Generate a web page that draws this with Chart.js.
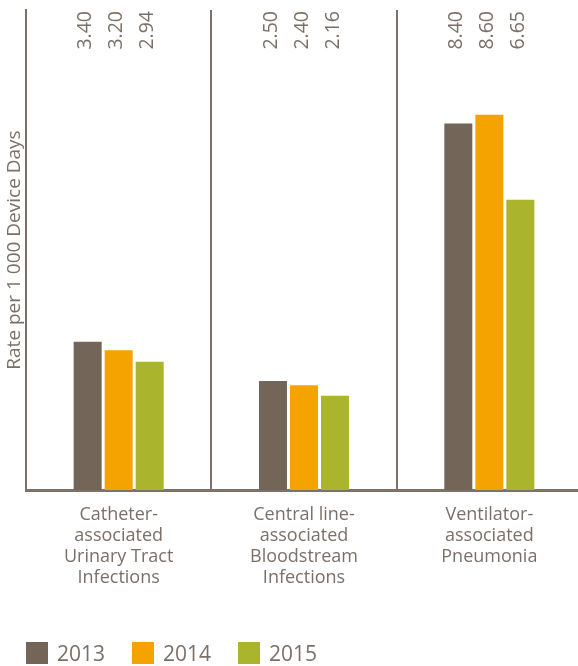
<!DOCTYPE html>
<html>
<head>
<meta charset="utf-8">
<title>Device-associated infection rates</title>
<script src="https://cdn.jsdelivr.net/npm/chart.js@4.4.1/dist/chart.umd.min.js"></script>
<style>
  html, body { margin: 0; padding: 0; background: #fff; }
  #wrap { position: relative; width: 578px; height: 666px; overflow: hidden; }
  #chart { display: block; }
  #legend {
    position: absolute; left: 26px; top: 642px;
    display: flex; align-items: center;
    font-family: "Open Sans", sans-serif; font-size: 21px; line-height: 22px; color: #7b7068;
  }
  #legend .item { display: flex; align-items: center; margin-right: 27px; }
  #legend .swatch { width: 22px; height: 22px; margin-right: 9px; }
</style>
</head>
<body>
<div id="wrap">
  <!-- un peu plus large que la fenêtre : la dernière séparation sort du cadre -->
  <canvas id="chart" width="582" height="666"></canvas>
  <div id="legend"></div>
</div>
<script>
const categories = [
  ["Catheter-", "associated", "Urinary Tract", "Infections"],
  ["Central line-", "associated", "Bloodstream", "Infections"],
  ["Ventilator-", "associated", "Pneumonia"],
];
const years = ["2013", "2014", "2015"];
const rates2013 = [3.40, 2.50, 8.40];
const rates2014 = [3.20, 2.40, 8.60];
const rates2015 = [2.94, 2.16, 6.65];
const yMax = 11;

const colors = ["#736659", "#f5a300", "#aab42d"];
const lineColor = "#7d726a";
const textColor = "#7b7068";
const fontFamily = "'Open Sans', sans-serif";

// Valeurs écrites verticalement en haut de chaque barre
const valueLabels = {
  id: "valueLabels",
  afterDatasetsDraw(chart) {
    const { ctx, chartArea } = chart;
    ctx.save();
    ctx.fillStyle = textColor;
    ctx.font = "19.5px " + fontFamily;
    ctx.textAlign = "right";
    ctx.textBaseline = "middle";
    chart.data.datasets.forEach((ds, i) => {
      chart.getDatasetMeta(i).data.forEach((bar, j) => {
        ctx.save();
        ctx.translate(bar.x, chartArea.top + 1);
        ctx.rotate(-Math.PI / 2);
        ctx.fillText(ds.data[j].toFixed(2), 0, -2);
        ctx.restore();
      });
    });
    ctx.restore();
  },
};

const datasets = [rates2013, rates2014, rates2015].map((values, i) => ({
  label: years[i],
  data: values,
  backgroundColor: colors[i],
  categoryPercentage: 0.502,
  barPercentage: 0.903,
}));

new Chart(document.getElementById("chart"), {
  type: "bar",
  data: { labels: categories, datasets: datasets },
  options: {
    responsive: false,
    animation: false,
    layout: { padding: { top: 10, right: 0, bottom: 0, left: 0 } },
    plugins: {
      legend: { display: false },
      tooltip: { enabled: false },
    },
    scales: {
      x: {
        grid: { display: true, color: lineColor, lineWidth: 2, drawTicks: false },
        border: { display: true, color: lineColor, width: 3 },
        ticks: {
          color: textColor,
          padding: 14,
          maxRotation: 0,
          autoSkip: false,
          font: { family: fontFamily, size: 18, lineHeight: 1.167 },
        },
        afterFit(scale) { scale.height = 176; },
      },
      y: {
        min: 0,
        max: yMax,
        grid: { display: false, drawTicks: false },
        border: { display: true, color: lineColor, width: 2 },
        ticks: { display: false },
        title: {
          display: true,
          text: "Rate per 1 000 Device Days",
          color: textColor,
          font: { family: fontFamily, size: 19 },
          padding: { top: 3, bottom: 2 },
        },
        afterFit(scale) { scale.width = 26; },
      },
    },
  },
  plugins: [valueLabels],
});

// Légende construite à partir des séries
const legend = document.getElementById("legend");
years.forEach((year, i) => {
  const item = document.createElement("div");
  item.className = "item";
  item.innerHTML = `<span class="swatch" style="background:${colors[i]}"></span><span>${year}</span>`;
  legend.appendChild(item);
});
</script>
</body>
</html>
